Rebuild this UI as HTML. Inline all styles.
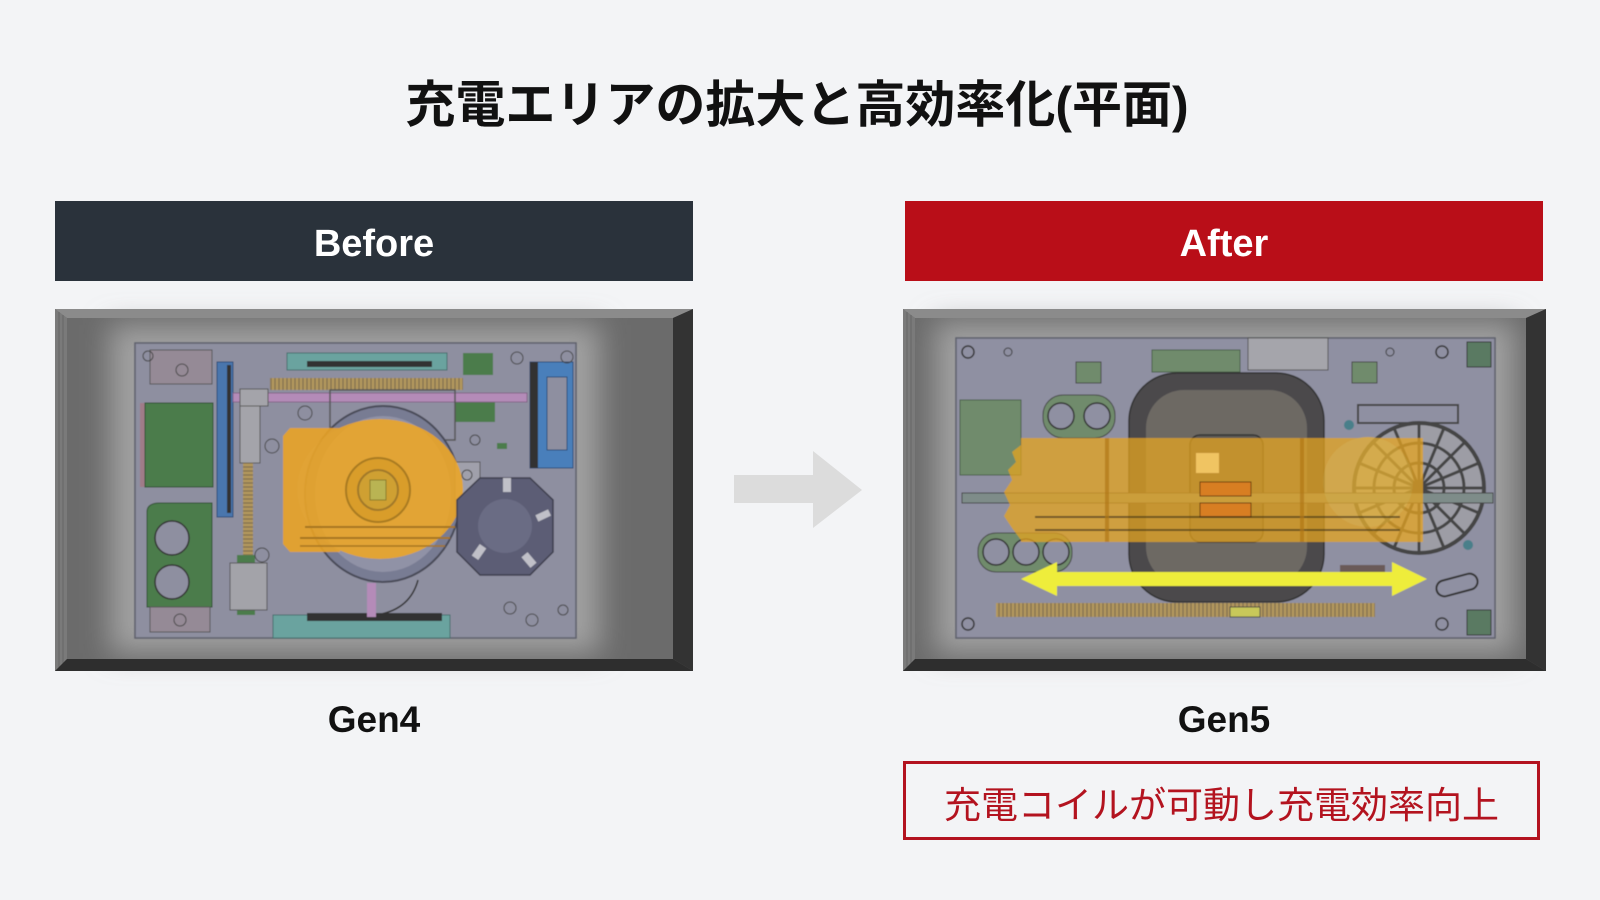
<!DOCTYPE html>
<html><head><meta charset="utf-8">
<style>
html,body{margin:0;padding:0;}
body{width:1600px;height:900px;background:#f3f4f6;position:relative;overflow:hidden;font-family:"Liberation Sans","Noto Sans CJK JP",sans-serif;}
.abs{position:absolute;}
.title{left:300px;width:994px;top:75px;height:60px;line-height:60px;text-align:center;font-size:50px;font-weight:bold;color:#111;letter-spacing:0px;font-family:"Liberation Sans","Noto Sans CJK JP",sans-serif;}
.hdr{top:201px;height:80px;line-height:86px;text-align:center;color:#fff;font-size:38px;font-weight:bold;overflow:hidden;}
.gen{top:695px;height:50px;line-height:50px;text-align:center;color:#111;font-size:37px;font-weight:bold;}
.note{left:903px;top:761px;width:631px;height:73px;border:3px solid #b3131f;line-height:83px;text-align:center;color:#b3131f;font-size:37px;font-family:"Liberation Sans","Noto Sans CJK JP",sans-serif;overflow:hidden;}
svg{position:absolute;left:0;top:0;}
</style></head>
<body>
<svg width="1600" height="900" viewBox="0 0 1600 900" xmlns="http://www.w3.org/2000/svg">
<defs>
<filter id="blur" x="-20%" y="-20%" width="140%" height="140%"><feGaussianBlur stdDeviation="14"/></filter>
<filter id="soft"><feGaussianBlur stdDeviation="0.6"/></filter>
<pattern id="spring" width="4" height="10" patternUnits="userSpaceOnUse"><rect width="4" height="10" fill="#8f7c52"/><rect width="2" height="10" fill="#b59a5e"/></pattern>
<pattern id="springv" width="10" height="4" patternUnits="userSpaceOnUse"><rect width="10" height="4" fill="#8f7c52"/><rect width="10" height="2" fill="#b59a5e"/></pattern>
</defs>

<!-- ============ LEFT FRAME ============ -->
<rect x="55" y="309" width="638" height="362" fill="#6b6b6b"/>
<rect x="110" y="325" width="490" height="328" fill="#a0a0a0" filter="url(#blur)"/>
<polygon points="55,309 693,309 673,318 67,318" fill="#8b8b8b"/>
<polygon points="55,309 67,318 67,659 55,671" fill="#7a7a7a"/>
<line x1="59" y1="312" x2="59" y2="668" stroke="#666" stroke-width="1"/>
<line x1="63" y1="315" x2="63" y2="664" stroke="#666" stroke-width="1"/>
<polygon points="673,318 693,309 693,671 673,659" fill="#333"/>
<polygon points="55,671 67,659 673,659 693,671" fill="#2e2e2e"/>

<g filter="url(#soft)">
<rect x="135" y="343" width="441" height="295" fill="#8e8fa0" stroke="#5f606c" stroke-width="1.5"/>
<rect x="150" y="350" width="62" height="34" fill="#958a96" stroke="#555" stroke-width="1"/>
<circle cx="148" cy="356" r="5" fill="none" stroke="#444"/>
<circle cx="182" cy="370" r="6" fill="none" stroke="#444"/>
<rect x="140" y="403" width="6" height="84" fill="#a07c88"/>
<rect x="145" y="403" width="68" height="84" fill="#4b7b4c" stroke="#2f4f30"/>
<path d="M147,512 Q147,503 160,503 L212,503 L212,607 L147,607 Z" fill="#4b7b4c" stroke="#2f4f30"/>
<circle cx="172" cy="538" r="17" fill="#8e8fa0" stroke="#333" stroke-width="1.5"/>
<circle cx="172" cy="582" r="17" fill="#8e8fa0" stroke="#333" stroke-width="1.5"/>
<rect x="150" y="607" width="60" height="25" fill="#958a96" stroke="#555"/>
<circle cx="180" cy="620" r="6" fill="none" stroke="#444"/>
<rect x="217" y="362" width="16" height="155" fill="#4876ad" stroke="#2b4d78"/>
<rect x="227" y="365" width="4" height="148" fill="#333"/>
<rect x="240" y="390" width="20" height="73" fill="#a4a4aa" stroke="#555"/>
<rect x="243" y="463" width="10" height="98" fill="url(#springv)"/>
<rect x="270" y="378" width="193" height="12" fill="url(#spring)"/>
<rect x="237" y="555" width="18" height="60" fill="#4b7b4c"/>
<rect x="287" y="353" width="160" height="17" fill="#6aa39f" stroke="#44706d"/>
<rect x="307" y="361" width="125" height="6" fill="#333"/>
<rect x="463" y="353" width="30" height="22" fill="#4b7b4c"/>
<rect x="455" y="400" width="40" height="22" fill="#4b7b4c"/>
<rect x="233" y="393" width="294" height="9" fill="#b48bb8" stroke="#7d5c80" stroke-width="0.8"/>
<rect x="240" y="389" width="28" height="17" fill="#a4a4aa" stroke="#555"/>
<rect x="330" y="390" width="125" height="50" fill="none" stroke="#555" stroke-width="1.5"/>
<ellipse cx="383" cy="494" rx="78" ry="88" fill="#787b93" stroke="#4a4b58" stroke-width="2"/>
<ellipse cx="383" cy="494" rx="68" ry="78" fill="#9092a6"/>
<rect x="455" y="462" width="25" height="54" fill="#a0a0ab" stroke="#555"/>
<circle cx="467" cy="475" r="5" fill="none" stroke="#444"/>
<circle cx="467" cy="503" r="5" fill="none" stroke="#444"/>
<circle cx="272" cy="446" r="7" fill="none" stroke="#444"/>
<circle cx="262" cy="555" r="7" fill="none" stroke="#444"/>
<circle cx="305" cy="413" r="7" fill="none" stroke="#444"/>
<g opacity="0.9">
<path d="M283,436 L290,428 L340,428 L340,552 L290,552 L283,544 Z" fill="#e9a326"/>
<ellipse cx="380" cy="489" rx="83" ry="70" fill="#eba629"/>
</g>
<circle cx="378" cy="490" r="32" fill="#d99d2c" stroke="#a87a22" stroke-width="2"/>
<circle cx="378" cy="490" r="20" fill="#cfa032" stroke="#a0782a" stroke-width="2"/>
<rect x="370" y="480" width="16" height="20" fill="#b9b452" stroke="#8a7a2a"/>
<line x1="305" y1="527" x2="455" y2="527" stroke="#a57520" stroke-width="2"/>
<line x1="300" y1="538" x2="450" y2="538" stroke="#a57520" stroke-width="2"/>
<line x1="300" y1="546" x2="445" y2="546" stroke="#a57520" stroke-width="1.5"/>
<polygon points="480,478 530,478 553,500 553,552 530,575 480,575 457,552 457,500" fill="#5c5d75" stroke="#3c3d4c" stroke-width="1.5"/>
<circle cx="505" cy="526" r="27" fill="#6b6c84"/>
<rect x="503" y="478" width="8" height="14" fill="#c0c0c8"/>
<rect x="536" y="512" width="14" height="7" fill="#c0c0c8" transform="rotate(-25 543 515)"/>
<rect x="525" y="553" width="8" height="14" fill="#c0c0c8" transform="rotate(-40 529 560)"/>
<rect x="475" y="545" width="8" height="14" fill="#c0c0c8" transform="rotate(35 479 552)"/>
<rect x="530" y="362" width="43" height="106" fill="#4a7fbb" stroke="#2b4d78"/>
<rect x="547" y="377" width="20" height="73" fill="#8e8fa0" stroke="#2b4d78"/>
<rect x="530" y="362" width="8" height="106" fill="#333"/>
<rect x="497" y="443" width="10" height="6" fill="#4b7b4c"/>
<rect x="230" y="563" width="37" height="47" fill="#a3a3a9" stroke="#555"/>
<rect x="273" y="615" width="177" height="23" fill="#6aa39f" stroke="#44706d"/>
<rect x="307" y="613" width="135" height="8" fill="#333"/>
<rect x="367" y="583" width="9" height="34" fill="#b48bb8"/>
<path d="M376,615 Q410,610 418,580" fill="none" stroke="#333" stroke-width="1.5"/>
<circle cx="510" cy="608" r="6" fill="none" stroke="#444"/>
<circle cx="532" cy="620" r="6" fill="none" stroke="#444"/>
<circle cx="563" cy="610" r="5" fill="none" stroke="#444"/>
<circle cx="567" cy="357" r="6" fill="none" stroke="#444"/>
<circle cx="517" cy="358" r="6" fill="none" stroke="#444"/>
<circle cx="475" cy="440" r="5" fill="none" stroke="#444"/>
</g>

<!-- ============ ARROW ============ -->
<polygon points="734,475 813,475 813,451 862,490 813,528 813,503 734,503" fill="#dcdcdc"/>

<!-- ============ RIGHT FRAME ============ -->
<rect x="903" y="309" width="643" height="362" fill="#6b6b6b"/>
<rect x="935" y="322" width="580" height="332" fill="#a0a0a0" filter="url(#blur)"/>
<polygon points="903,309 1546,309 1526,318 915,318" fill="#8b8b8b"/>
<polygon points="903,309 915,318 915,659 903,671" fill="#7a7a7a"/>
<line x1="907" y1="312" x2="907" y2="668" stroke="#666"/>
<line x1="911" y1="315" x2="911" y2="664" stroke="#666"/>
<polygon points="1526,318 1546,309 1546,671 1526,659" fill="#333"/>
<polygon points="903,671 915,659 1526,659 1546,671" fill="#2e2e2e"/>

<g filter="url(#soft)">
<rect x="956" y="338" width="539" height="300" fill="#8f90a2" stroke="#5f606c" stroke-width="1.5"/>
<circle cx="968" cy="352" r="6" fill="none" stroke="#333" stroke-width="1.5"/>
<circle cx="1008" cy="352" r="4" fill="none" stroke="#333"/>
<circle cx="1442" cy="352" r="6" fill="none" stroke="#333" stroke-width="1.5"/>
<circle cx="1390" cy="352" r="4" fill="none" stroke="#333"/>
<circle cx="968" cy="624" r="6" fill="none" stroke="#333" stroke-width="1.5"/>
<circle cx="1442" cy="624" r="6" fill="none" stroke="#333" stroke-width="1.5"/>
<rect x="1467" y="342" width="24" height="25" fill="#5a7a62" stroke="#333"/>
<rect x="1467" y="610" width="24" height="25" fill="#5a7a62" stroke="#333"/>
<rect x="1152" y="350" width="88" height="22" fill="#6f8b6c" stroke="#4a5e48"/>
<rect x="1248" y="338" width="80" height="32" fill="#a5a5ab" stroke="#555"/>
<path d="M1076,362 L1101,362 L1101,383 L1076,383 Z" fill="#6f8b6c" stroke="#444"/>
<path d="M1352,362 L1377,362 L1377,383 L1352,383 Z" fill="#6f8b6c" stroke="#444"/>
<rect x="960" y="400" width="61" height="75" fill="#6f8b6c" stroke="#4a5e48"/>
<rect x="1043" y="395" width="72" height="43" rx="20" fill="#6f8b6c" stroke="#444"/>
<circle cx="1061" cy="416" r="13" fill="#8f90a2" stroke="#333" stroke-width="1.5"/>
<circle cx="1097" cy="416" r="13" fill="#8f90a2" stroke="#333" stroke-width="1.5"/>
<rect x="978" y="533" width="94" height="39" rx="18" fill="#6f8b6c" stroke="#444"/>
<circle cx="996" cy="552" r="13" fill="#8f90a2" stroke="#333" stroke-width="1.5"/>
<circle cx="1026" cy="552" r="13" fill="#8f90a2" stroke="#333" stroke-width="1.5"/>
<circle cx="1056" cy="552" r="13" fill="#8f90a2" stroke="#333" stroke-width="1.5"/>
<rect x="1129" y="373" width="195" height="229" rx="48" fill="#4b4a4c" stroke="#333" stroke-width="1.5"/>
<rect x="1146" y="390" width="161" height="195" rx="38" fill="#6d6964"/>
<rect x="1190" y="435" width="73" height="107" rx="10" fill="#5d5a57" stroke="#333" stroke-width="1.5"/>
<rect x="1358" y="405" width="100" height="18" fill="none" stroke="#444" stroke-width="2"/>
<circle cx="1419" cy="488" r="65" fill="#9d9da5" stroke="#444" stroke-width="4"/>
<circle cx="1419" cy="488" r="45" fill="none" stroke="#444" stroke-width="3"/>
<circle cx="1419" cy="488" r="25" fill="none" stroke="#444" stroke-width="3"/>
<g stroke="#444" stroke-width="3">
<line x1="1419" y1="423" x2="1419" y2="553"/>
<line x1="1354" y1="488" x2="1484" y2="488"/>
<line x1="1373" y1="442" x2="1465" y2="534"/>
<line x1="1465" y1="442" x2="1373" y2="534"/>
<line x1="1394" y1="428" x2="1444" y2="548"/>
<line x1="1444" y1="428" x2="1394" y2="548"/>
<line x1="1359" y1="463" x2="1479" y2="513"/>
<line x1="1359" y1="513" x2="1479" y2="463"/>
</g>
<circle cx="1349" cy="425" r="5" fill="#4a7f8a"/>
<circle cx="1468" cy="545" r="5" fill="#4a7f8a"/>
<rect x="962" y="493" width="531" height="10" fill="#7e8c89" stroke="#444"/>
<g opacity="0.74">
<rect x="1021" y="438" width="402" height="104" fill="#e6a520"/>
<path d="M1021,445 L1012,452 L1016,462 L1008,470 L1012,480 L1004,492 L1010,505 L1004,516 L1012,528 L1021,540 Z" fill="#e6a520"/>
<circle cx="1368" cy="482" r="45" fill="#e8b030"/>
</g>
<rect x="1196" y="453" width="23" height="20" fill="#f0c462"/>
<rect x="1200" y="482" width="51" height="14" fill="#d87e22" stroke="#6a3a10"/>
<rect x="1200" y="503" width="51" height="14" fill="#d87e22" stroke="#6a3a10"/>
<g stroke="#4a3a1a" stroke-width="2" opacity="0.7">
<line x1="1035" y1="517" x2="1400" y2="517"/>
<line x1="1035" y1="530" x2="1400" y2="530"/>
</g>
<rect x="1105" y="438" width="4" height="104" fill="#b07818" opacity="0.7"/>
<rect x="1300" y="438" width="4" height="104" fill="#b07818" opacity="0.7"/>
<rect x="996" y="603" width="379" height="14" fill="url(#spring)"/>
<rect x="1230" y="607" width="30" height="10" fill="#c8c85a" stroke="#444"/>
<rect x="1436" y="577" width="42" height="16" rx="8" fill="none" stroke="#333" stroke-width="2" transform="rotate(-15 1457 585)"/>
<rect x="1340" y="565" width="45" height="20" fill="#6a5a58"/>
<polygon points="1021,579 1057,562 1057,572 1392,572 1392,562 1427,579 1392,596 1392,586 1057,586 1057,596" fill="#eeed3a"/>
</g>
</svg>

<div class="abs title">充電エリアの拡大と高効率化(平面)</div>
<div class="abs hdr" style="left:55px;width:638px;background:#2a323b;">Before</div>
<div class="abs hdr" style="left:905px;width:638px;background:#b90e18;">After</div>
<div class="abs gen" style="left:274px;width:200px;">Gen4</div>
<div class="abs gen" style="left:1124px;width:200px;">Gen5</div>
<div class="abs note">充電コイルが可動し充電効率向上</div>
</body></html>
